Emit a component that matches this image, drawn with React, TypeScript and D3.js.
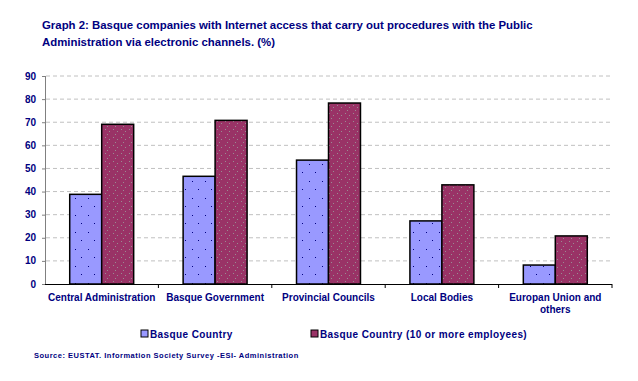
import React from "react";
import * as d3 from "d3";

const categories = [
  ["Central Administration"],
  ["Basque Government"],
  ["Provincial Councils"],
  ["Local Bodies"],
  ["Europan Union and", "others"],
];
const seriesNames = ["Basque Country", "Basque Country (10 or more employees)"];
const basqueCountry = [38.8, 46.6, 53.6, 27.3, 8.2];
const basque10plus = [69.1, 70.8, 78.3, 42.9, 20.8];
const yTicks = [0, 10, 20, 30, 40, 50, 60, 70, 80, 90];
const titleLines = [
  "Graph 2: Basque companies with Internet access that carry out procedures with the Public",
  "Administration via electronic channels. (%)",
];
const sourceText = "Source: EUSTAT. Information Society Survey -ESI- Administration";

const W = 638;
const H = 381;
const navy = "#000080";
const font = "'Liberation Sans', Arial, sans-serif";

export default function App() {
  const left = 45;
  const right = 612;
  const top = 76;
  const bottom = 284;
  const y = d3.scaleLinear().domain([0, 90]).range([bottom, top]);
  const x = d3
    .scaleBand<number>()
    .domain(categories.map((_, i) => i))
    .range([left, right])
    .padding(0);
  const step = x.bandwidth();
  const inner = d3
    .scaleBand<number>()
    .domain([0, 1])
    .range([step * 0.218, step * 0.782])
    .padding(0);
  const series = [basqueCountry, basque10plus];
  const fills = ["url(#patBlue)", "url(#patRed)"];

  return (
    <svg width={W} height={H} style={{ display: "block", position: "absolute", left: 0, top: 0 }}>
      <defs>
        <pattern id="patBlue" patternUnits="userSpaceOnUse" width="13" height="17">
          <rect width="13" height="17" fill="#9999ff" />
          <rect x="3" y="2" width="1" height="1" fill="#000080" />
          <rect x="10" y="11" width="1" height="1" fill="#000080" />
        </pattern>
        <pattern id="patRed" patternUnits="userSpaceOnUse" width="8" height="8">
          <rect width="8" height="8" fill="#993366" />
          <rect x="1" y="1" width="1" height="1" fill="#9a8a92" />
          <rect x="5" y="3" width="1" height="1" fill="#9a8a92" />
          <rect x="3" y="6" width="1" height="1" fill="#9a8a92" />
        </pattern>
      </defs>
      <rect width={W} height={H} fill="#fff" />
      {titleLines.map((t, i) => (
        <text key={i} x={42} y={29 + i * 17} fontFamily={font} fontWeight="bold" fontSize={11.4} fill={navy}>
          {t}
        </text>
      ))}
      {yTicks.slice(1).map((v) => (
        <line key={v} x1={left + 1} x2={right} y1={y(v)} y2={y(v)} stroke="#c0c0c0" strokeDasharray="4,3" />
      ))}
      <line x1={left + 0.5} x2={left + 0.5} y1={top} y2={bottom} stroke="#808080" />
      {yTicks.map((v) => (
        <g key={v}>
          <line x1={left - 3} x2={left} y1={y(v) + 0.5} y2={y(v) + 0.5} stroke="#808080" />
          <text x={36} y={y(v) + 3.5} textAnchor="end" fontFamily={font} fontWeight="bold" fontSize={10} fill={navy}>
            {v}
          </text>
        </g>
      ))}
      {categories.map((_, ci) =>
        series.map((s, si) => {
          const bx = (x(ci) as number) + (inner(si) as number);
          return (
            <rect
              key={ci + "-" + si}
              x={bx}
              y={y(s[ci])}
              width={inner.bandwidth()}
              height={bottom - y(s[ci])}
              fill={fills[si]}
              stroke="#000"
              strokeWidth={1.5}
            />
          );
        })
      )}
      <line x1={left} x2={right} y1={bottom + 0.5} y2={bottom + 0.5} stroke="#000" strokeWidth={1.2} />
      {categories.map((_, ci) => (
        <line key={ci} x1={(x(ci) as number) + step} x2={(x(ci) as number) + step} y1={bottom} y2={bottom + 4} stroke="#000" />
      ))}
      {categories.map((lines, ci) =>
        lines.map((l, li) => (
          <text
            key={ci + "-" + li}
            x={(x(ci) as number) + step / 2}
            y={301 + li * 12}
            textAnchor="middle"
            fontFamily={font}
            fontWeight="bold"
            fontSize={10}
            fill={navy}
          >
            {l}
          </text>
        ))
      )}
      {seriesNames.map((n, i) => {
        const lx = i === 0 ? 141 : 311;
        return (
          <g key={n}>
            <rect x={lx} y={330} width={7} height={7} fill={i === 0 ? "#9999ff" : "#993366"} stroke="#000" />
            <text x={lx + 9} y={338} fontFamily={font} fontWeight="bold" fontSize={10} letterSpacing={0.4} fill={navy}>
              {n}
            </text>
          </g>
        );
      })}
      <text x={34} y={358} fontFamily={font} fontWeight="bold" fontSize={7.5} letterSpacing={0.5} fill={navy}>
        {sourceText}
      </text>
    </svg>
  );
}
